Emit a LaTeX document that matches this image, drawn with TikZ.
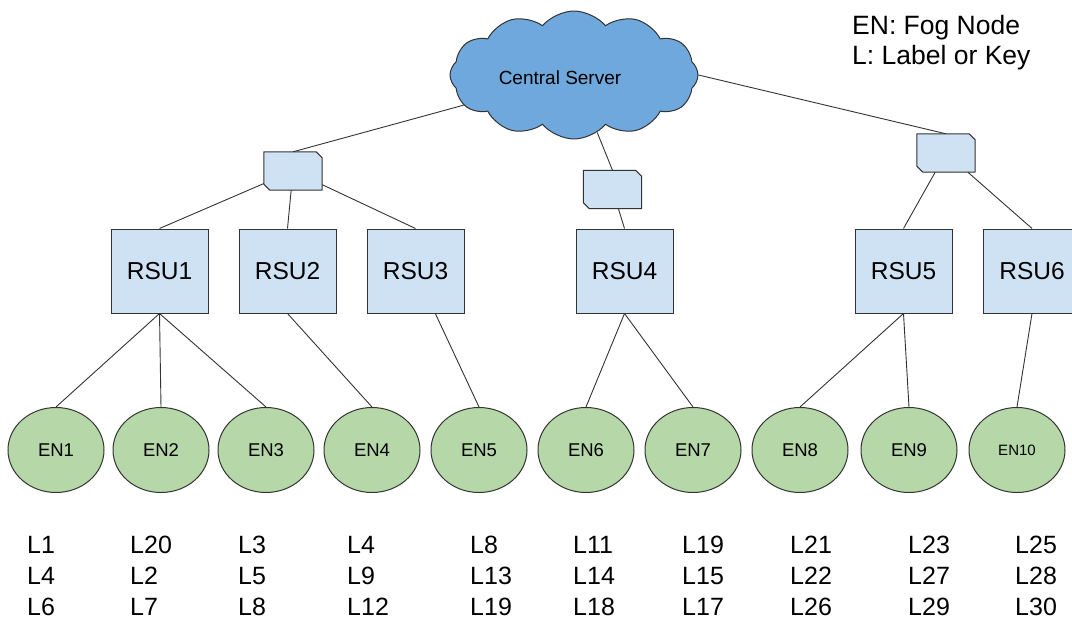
\documentclass[tikz,border=0pt]{standalone}
\usepackage{fontspec}
\setmainfont{Liberation Sans}
\usetikzlibrary{shapes.symbols,shapes.geometric}
\definecolor{skyblue}{HTML}{6FA8DC}
\definecolor{paleblue}{HTML}{CFE2F3}
\definecolor{palegreen}{HTML}{B6D7A8}
\definecolor{edgegray}{HTML}{333333}

\begin{document}
\begin{tikzpicture}[x=1pt, y=-1pt,
    rsubox/.style={draw=edgegray, line width=1pt, fill=paleblue,
      minimum width=97pt, minimum height=84pt, font=\fontsize{24.5}{28}\selectfont},
    fognode/.style={ellipse, draw=edgegray, line width=1pt, fill=palegreen,
      minimum width=96pt, minimum height=85pt, inner sep=0pt, font=\fontsize{18.5}{22}\selectfont},
    hubbox/.style={rectangle, minimum width=58pt, minimum height=38pt, inner sep=0pt},
    hubline/.style={draw=edgegray, line width=1pt, fill=paleblue, line join=round},
    keylist/.style={anchor=west, align=left, inner sep=0pt, font=\fontsize{25}{31}\selectfont},
    link/.style={draw=edgegray, line width=0.9pt}]
    \useasboundingbox (0,0) rectangle (1072,621);
    \clip (0,0) rectangle (1072,621);

    % central server
    \node[cloud, cloud puffs=12, cloud puff arc=100, draw=edgegray, line width=1pt, fill=skyblue,
      minimum width=248pt, minimum height=128pt,
      label={[font=\fontsize{19}{22}\selectfont, xshift=-14pt, yshift=-3pt]center:Central Server}]
      (server) at (574,75) {};

    % hubs (cut corners drawn by hand)
    \node[hubbox] (hub1) at (293,171) {};
    \node[hubbox] (hub2) at (612.5,189.5) {};
    \node[hubbox] (hub3) at (946,153) {};
    \foreach \h in {hub1,hub2,hub3}
      \path[hubline] (\h.north west) -- ([xshift=-6pt]\h.north east)
        -- ([yshift=-6pt]\h.north east) -- (\h.south east)
        -- ([xshift=6pt]\h.south west) -- ([yshift=6pt]\h.south west) -- cycle;

    % road side units
    \foreach \x [count=\i] in {159.5,287.5,415.5,624.5,903.5,1032}
      \node[rsubox] (rsu\i) at (\x,271) {RSU\i};

    % fog nodes
    \foreach \x [count=\i] in {56,161,266,372,479,586,693,800,909}
      \node[fognode] (en\i) at (\x,450) {EN\i};
    \node[fognode, font=\fontsize{15}{18}\selectfont] (en10) at (1017,450) {EN10};

    % keys under each fog node
    \foreach \x/\txt [count=\i] in {27/{L1\\L4\\L6}, 130/{L20\\L2\\L7}, 238/{L3\\L5\\L8},
        347/{L4\\L9\\L12}, 470/{L8\\L13\\L19}, 573/{L11\\L14\\L18}, 682/{L19\\L15\\L17},
        790/{L21\\L22\\L26}, 908/{L23\\L27\\L29}, 1015/{L25\\L28\\L30}}
      \node[keylist] (keys\i) at (\x,576) {\txt};

    \node[anchor=west, align=left, inner sep=0pt, font=\fontsize{26.5}{30}\selectfont]
      (legend) at (852,42.5) {EN: Fog Node\\L: Label or Key};

    \draw[link] (server) -- (hub1.north);
    \draw[link] (server) -- (hub2.north);
    \draw[link] (server.east) -- (hub3.north);

    \draw[link] (hub1) -- (rsu1.north);
    \draw[link] (hub1) -- (rsu2.north);
    \draw[link] (hub1) -- (rsu3.north);
    \draw[link] (hub2) -- (rsu4.north);
    \draw[link] (hub3) -- (rsu5.north);
    \draw[link] (hub3) -- (rsu6.north);

    \draw[link] (rsu1.south) -- (en1.north);
    \draw[link] (rsu1.south) -- (en2.north);
    \draw[link] (rsu1.south) -- (en3.north);
    \draw[link] (rsu2.south) -- (en4.north);
    \draw[link] (rsu3) -- (en5.north);
    \draw[link] (rsu4.south) -- (en6.north);
    \draw[link] (rsu4.south) -- (en7.north);
    \draw[link] (rsu5.south) -- (en8.north);
    \draw[link] (rsu5.south) -- (en9.north);
    \draw[link] (rsu6.south) -- (en10.north);
\end{tikzpicture}
\end{document}
